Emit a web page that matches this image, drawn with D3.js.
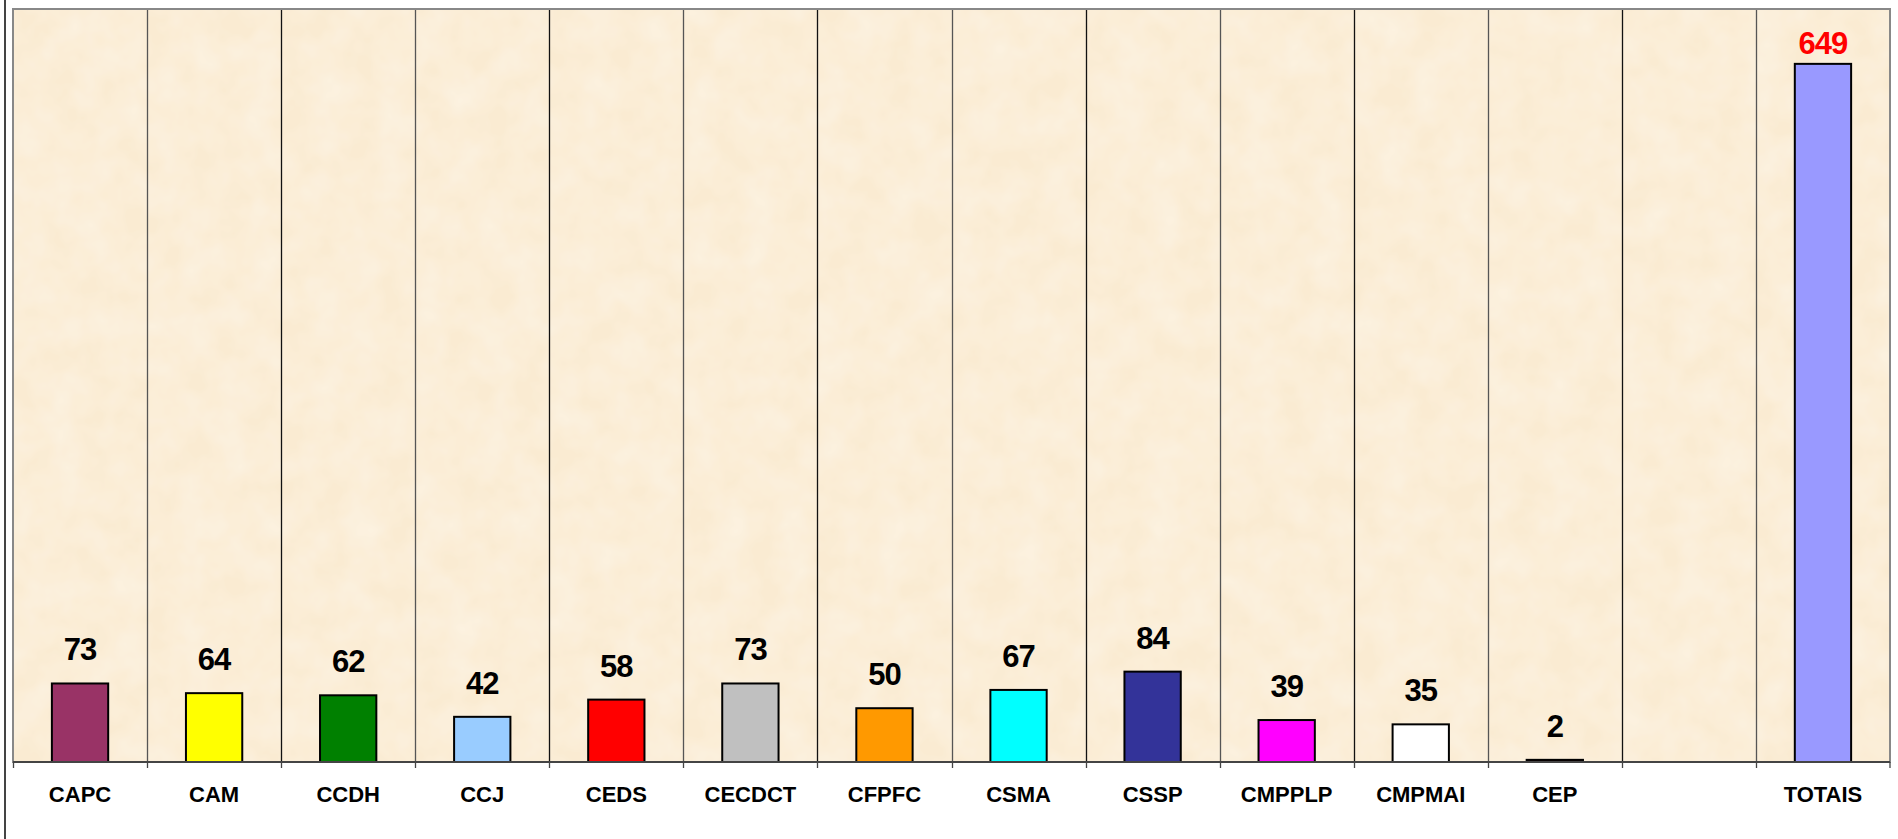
<!DOCTYPE html>
<html>
<head>
<meta charset="utf-8">
<script src="https://cdn.jsdelivr.net/npm/d3@7"></script>
<style>
  html, body { margin: 0; padding: 0; background: #fff; }
  svg { display: block; }
</style>
</head>
<body>
<div id="chart"></div>
<script>
const categories = ["CAPC", "CAM", "CCDH", "CCJ", "CEDS", "CECDCT", "CFPFC", "CSMA", "CSSP", "CMPPLP", "CMPMAI", "CEP", "", "TOTAIS"];
const values = [73, 64, 62, 42, 58, 73, 50, 67, 84, 39, 35, 2, null, 649];
const barColors = ["#993366", "#FFFF00", "#008000", "#99CCFF", "#FF0000", "#C0C0C0", "#FF9900", "#00FFFF", "#333399", "#FF00FF", "#FFFFFF", "#330000", "#FFFFFF", "#9999FF"];
const labelColors = ["#000", "#000", "#000", "#000", "#000", "#000", "#000", "#000", "#000", "#000", "#000", "#000", "#000", "#FF0000"];

const width = 1898, height = 839;
const margin = { top: 9, right: 8, bottom: 77, left: 13 };
const plotW = width - margin.left - margin.right;
const plotH = height - margin.top - margin.bottom;

const svg = d3.select("#chart")
    .append("svg")
    .attr("width", width)
    .attr("height", height)
    .style("font-family", "'Liberation Sans', Arial, sans-serif");

// outer frame line on the left
svg.append("line")
    .attr("x1", 5).attr("x2", 5)
    .attr("y1", 0).attr("y2", height)
    .attr("stroke", "#444")
    .attr("stroke-width", 2);

// subtle parchment texture
const defs = svg.append("defs");
const filt = defs.append("filter").attr("id", "paper").attr("x", 0).attr("y", 0).attr("width", 1).attr("height", 1);
filt.append("feTurbulence").attr("type", "fractalNoise").attr("baseFrequency", 0.03).attr("numOctaves", 3).attr("seed", 4).attr("result", "noise");
filt.append("feColorMatrix").attr("in", "noise").attr("type", "matrix")
    .attr("values", "0 0 0 0 1  0 0 0 0 0.97  0 0 0 0 0.9  0 0 0 0.6 -0.15")
    .attr("result", "spots");
filt.append("feFlood").attr("flood-color", "#FAEBD2").attr("result", "base");
filt.append("feComposite").attr("in", "spots").attr("in2", "base").attr("operator", "over");

const g = svg.append("g").attr("transform", `translate(${margin.left},${margin.top})`);

const x = d3.scaleBand()
    .domain(d3.range(categories.length))
    .range([0, plotW])
    .padding(0);

const y = d3.scaleLinear()
    .domain([0, 700])
    .range([plotH, 0]);

g.append("rect")
    .attr("width", plotW)
    .attr("height", plotH)
    .attr("fill", "#FAEBD2")
    .attr("filter", "url(#paper)");

// vertical gridlines at category boundaries
g.append("g")
    .selectAll("line")
    .data(d3.range(1, categories.length))
    .join("line")
    .attr("x1", i => Math.round(x(i)) + 0.5)
    .attr("x2", i => Math.round(x(i)) + 0.5)
    .attr("y1", 0)
    .attr("y2", plotH)
    .attr("stroke", (i) => i % 2 ? "#555" : "#111")
    .attr("stroke-width", 1.3);

// plot border
g.append("rect")
    .attr("width", plotW)
    .attr("height", plotH)
    .attr("fill", "none")
    .attr("stroke", "#888")
    .attr("stroke-width", 2);

// bars
const barW = x.bandwidth() * 0.42;
g.append("g")
    .selectAll("rect")
    .data(values.map((v, i) => ({ v, i })).filter(d => d.v != null))
    .join("rect")
    .attr("x", d => x(d.i) + (x.bandwidth() - barW) / 2)
    .attr("y", d => y(d.v))
    .attr("width", barW)
    .attr("height", d => y(0) - y(d.v))
    .attr("fill", d => barColors[d.i])
    .attr("stroke", "#000")
    .attr("stroke-width", 2);

// category axis
const xAxis = g.append("g")
    .attr("transform", `translate(0,${plotH})`);
xAxis.append("line")
    .attr("x1", 0).attr("x2", plotW)
    .attr("stroke", "#444").attr("stroke-width", 2);
xAxis.selectAll("line.tick")
    .data(d3.range(0, categories.length + 1))
    .join("line")
    .attr("class", "tick")
    .attr("x1", i => i === categories.length ? plotW : Math.round(x(i)) + 0.5)
    .attr("x2", i => i === categories.length ? plotW : Math.round(x(i)) + 0.5)
    .attr("y1", 0).attr("y2", 6)
    .attr("stroke", "#444").attr("stroke-width", 1.3);
xAxis.selectAll("text")
    .data(categories)
    .join("text")
    .attr("x", (d, i) => x(i) + x.bandwidth() / 2)
    .attr("y", 40)
    .attr("text-anchor", "middle")
    .attr("font-size", 22)
    .attr("font-weight", "bold")
    .attr("fill", "#000")
    .text(d => d);

// value labels
g.append("g")
    .selectAll("text")
    .data(values.map((v, i) => ({ v, i })).filter(d => d.v != null))
    .join("text")
    .attr("x", d => x(d.i) + x.bandwidth() / 2)
    .attr("y", d => Math.max(y(d.v) - 23, 45))
    .attr("text-anchor", "middle")
    .attr("font-size", 31)
    .attr("letter-spacing", -1)
    .attr("font-weight", "bold")
    .attr("fill", d => labelColors[d.i])
    .text(d => d.v);
</script>
</body>
</html>
